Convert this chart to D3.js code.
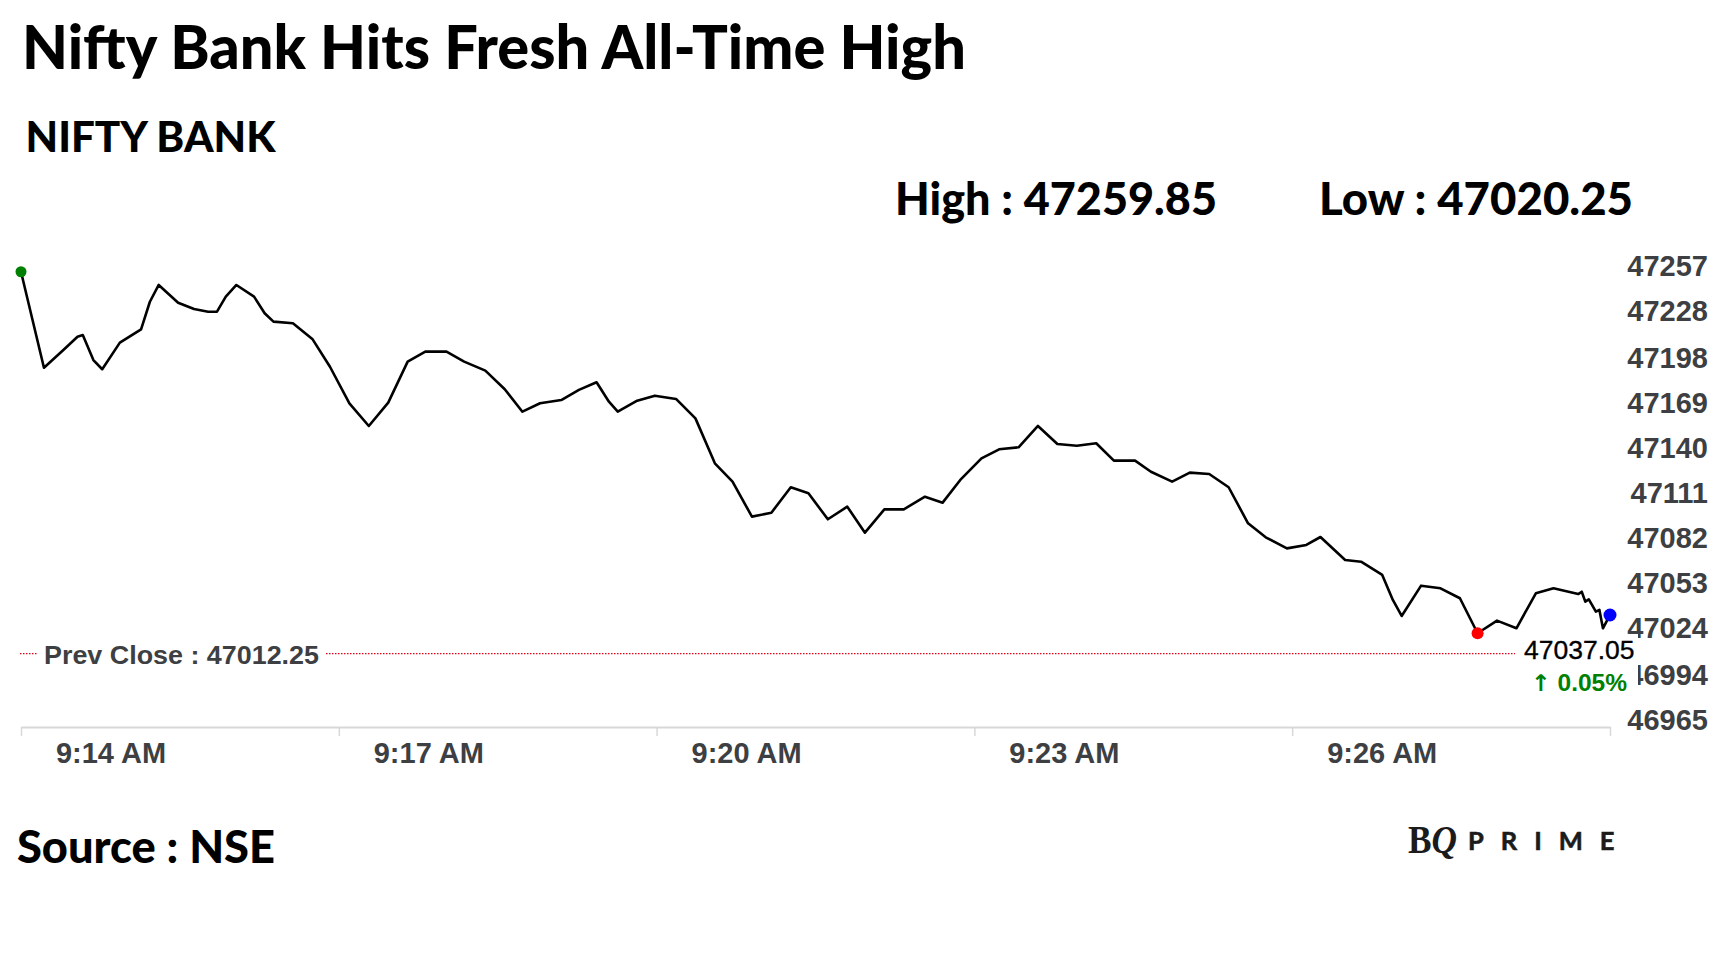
<!DOCTYPE html>
<html>
<head>
<meta charset="utf-8">
<script src="https://cdn.jsdelivr.net/npm/d3@7"></script>
<style>
  body{margin:0;background:#fff;}
  svg{display:block;}
</style>
</head>
<body>
<svg></svg>
<script>
var times = ["9:14:00","9:14:13","9:14:24","9:14:32","9:14:35","9:14:41","9:14:46","9:14:56","9:15:08","9:15:13",
  "9:15:18","9:15:29","9:15:38","9:15:46","9:15:51","9:15:56","9:16:02","9:16:12","9:16:18","9:16:23",
  "9:16:34","9:16:45","9:16:55","9:17:06","9:17:17","9:17:28","9:17:39","9:17:49","9:18:01","9:18:11",
  "9:18:23","9:18:34","9:18:44","9:18:54","9:19:06","9:19:16","9:19:26","9:19:33","9:19:38","9:19:49",
  "9:19:59","9:20:11","9:20:22","9:20:33","9:20:43","9:20:54","9:21:05","9:21:16","9:21:26","9:21:37",
  "9:21:48","9:21:58","9:22:09","9:22:20","9:22:32","9:22:42","9:22:52","9:23:04","9:23:14","9:23:25",
  "9:23:36","9:23:47","9:23:58","9:24:09","9:24:19","9:24:31","9:24:40","9:24:52","9:25:02","9:25:13",
  "9:25:24","9:25:35","9:25:45","9:25:57","9:26:08","9:26:16","9:26:30","9:26:39","9:26:51","9:26:57",
  "9:27:02","9:27:13","9:27:24","9:27:35","9:27:45","9:27:56","9:28:07","9:28:18","9:28:28","9:28:42",
  "9:28:44","9:28:46","9:28:48","9:28:52","9:28:54","9:28:56","9:29:00"];

var prices = [47257.8,47196.1,47207.5,47216.0,47217.1,47201.0,47195.1,47212.2,47220.8,47238.5,
  47249.3,47237.9,47233.8,47232.1,47232.1,47241.8,47249.3,47241.8,47231.1,47225.7,
  47224.7,47214.6,47196.7,47173.2,47158.6,47173.6,47200.0,47206.4,47206.4,47200.0,
  47194.2,47182.2,47167.8,47173.2,47175.3,47181.8,47186.7,47174.2,47167.8,47174.9,
  47178.1,47176.0,47163.5,47134.6,47122.8,47100.3,47102.8,47119.2,47115.3,47098.6,
  47106.7,47090.0,47105.0,47105.0,47113.1,47109.3,47123.9,47137.8,47143.6,47144.9,
  47158.6,47147.0,47145.9,47147.5,47136.3,47136.3,47129.2,47122.8,47128.6,47127.7,
  47119.2,47096.0,47087.0,47079.9,47082.1,47087.2,47072.4,47071.3,47062.8,47046.7,
  47036.4,47055.9,47054.2,47047.8,47025.3,47033.4,47028.5,47051.0,47054.2,47050.5,
  47052.0,47045.6,47047.1,47039.2,47040.3,47028.5,47037.05];

var yTicks = [46965,46994,47024,47053,47082,47111,47140,47169,47198,47228,47257];
var xTicks = ["9:14:00","9:17:00","9:20:00","9:23:00","9:26:00","9:29:00"];
var xTickLabels = ["9:14 AM","9:17 AM","9:20 AM","9:23 AM","9:26 AM",""];

var prevClose = 47012.25;
var dayHigh = 47259.85;
var dayLow = 47020.25;
var changePct = 0.05;

start();

function start(){
  graph();
}

function graph(){
  var width = 1728;
  var height = 972;
  var axisFont = "'Liberation Sans', Arial, sans-serif";
  var headFont = "Lato, 'Open Sans', sans-serif";
  var grey = "#3d3f42";

  var svg = d3.select("svg")
              .attr("width",width)
              .attr("height",height);

  svg.append("rect")
     .attr("width",width)
     .attr("height",height)
     .attr("fill","#fff");

  var parse = d3.timeParse("%H:%M:%S");
  var data = times.map(function(t,i){ return {t:parse(t), v:prices[i]}; });

  var x = d3.scaleTime()
            .domain([parse(xTicks[0]), parse(xTicks[xTicks.length-1])])
            .range([21,1610]);
  var y = d3.scaleLinear()
            .domain([yTicks[0], yTicks[yTicks.length-1]])
            .range([727,273]);

  // headings
  svg.append("text")
     .attr("x",22).attr("y",68.5)
     .attr("font-family",headFont).attr("font-weight",900)
     .attr("font-size",60)
     .attr("textLength",944).attr("lengthAdjust","spacingAndGlyphs")
     .text("Nifty Bank Hits Fresh All-Time High");

  svg.append("text")
     .attr("x",25.5).attr("y",151.7)
     .attr("font-family",headFont).attr("font-weight",900)
     .attr("font-size",42)
     .attr("textLength",250).attr("lengthAdjust","spacingAndGlyphs")
     .text("NIFTY BANK");

  svg.append("text")
     .attr("x",895).attr("y",215)
     .attr("font-family",headFont).attr("font-weight",900)
     .attr("font-size",46.5)
     .attr("textLength",322).attr("lengthAdjust","spacingAndGlyphs")
     .text("High : " + dayHigh.toFixed(2));

  svg.append("text")
     .attr("x",1319).attr("y",215)
     .attr("font-family",headFont).attr("font-weight",900)
     .attr("font-size",46.5)
     .attr("textLength",314).attr("lengthAdjust","spacingAndGlyphs")
     .text("Low : " + dayLow.toFixed(2));

  // x axis
  var xAxis = d3.axisBottom(x)
                .tickValues(xTicks.map(parse))
                .tickSize(9)
                .tickSizeOuter(0)
                .tickFormat(function(d,i){ return xTickLabels[i]; });

  var gx = svg.append("g")
              .attr("transform","translate(0,727)")
              .call(xAxis);
  gx.select(".domain").attr("stroke","#d8d8d8").attr("stroke-width",2);
  gx.selectAll(".tick line").attr("stroke","#d8d8d8").attr("stroke-width",1.5);
  gx.selectAll(".tick text")
    .attr("y",36).attr("dy",0).attr("dx",89.5)
    .attr("fill",grey)
    .attr("font-family",axisFont).attr("font-weight",700)
    .attr("font-size",29);

  // y axis labels on the right
  var yAxis = d3.axisRight(y)
                .tickValues(yTicks)
                .tickSize(0)
                .tickFormat(d3.format("d"));
  var gy = svg.append("g")
              .attr("transform","translate(1708,0)")
              .call(yAxis);
  gy.select(".domain").remove();
  gy.selectAll(".tick text")
    .attr("x",0).attr("dy","0.09em")
    .attr("text-anchor","end")
    .attr("fill",grey)
    .attr("font-family",axisFont).attr("font-weight",700)
    .attr("font-size",29);

  // previous close
  svg.append("line")
     .attr("x1",20).attr("x2",1515)
     .attr("y1",y(prevClose)).attr("y2",y(prevClose))
     .attr("stroke","#e3001b").attr("stroke-width",1.2)
     .attr("stroke-dasharray","1.5,1.5");
  svg.append("rect")
     .attr("x",37).attr("y",y(prevClose)-16)
     .attr("width",288).attr("height",32)
     .attr("fill","#fff");
  svg.append("text")
     .attr("x",44).attr("y",y(prevClose)+10)
     .attr("font-family",axisFont).attr("font-weight",700)
     .attr("font-size",26).attr("fill",grey)
     .attr("textLength",275).attr("lengthAdjust","spacingAndGlyphs")
     .text("Prev Close : " + prevClose.toFixed(2));

  // price line
  var line = d3.line()
               .x(function(d){ return x(d.t); })
               .y(function(d){ return y(d.v); });

  svg.append("path")
     .datum(data)
     .attr("d",line)
     .attr("fill","none")
     .attr("stroke","#000")
     .attr("stroke-width",2.6)
     .attr("stroke-linejoin","round");

  var first = data[0];
  var last = data[data.length-1];
  var low = data[d3.minIndex(data,function(d){ return d.v; })];

  svg.append("circle")
     .attr("cx",x(first.t)).attr("cy",y(first.v)).attr("r",5.5)
     .attr("fill","#008000");
  svg.append("circle")
     .attr("cx",x(low.t)).attr("cy",y(low.v)).attr("r",6)
     .attr("fill","#ff0000");
  svg.append("circle")
     .attr("cx",x(last.t)).attr("cy",y(last.v)).attr("r",6.5)
     .attr("fill","#0000ff");

  // last price label
  var lx = x(last.t);
  var ly = y(last.v);
  svg.append("rect")
     .attr("x",lx-94).attr("y",ly+19)
     .attr("width",122).attr("height",64)
     .attr("fill","#fff");
  svg.append("text")
     .attr("x",lx-86).attr("y",ly+44)
     .attr("font-family",axisFont)
     .attr("font-size",26.5).attr("fill","#000")
     .attr("stroke","#000").attr("stroke-width",0.35)
     .text(last.v.toFixed(2));
  var chg = svg.append("text")
               .attr("x",lx-79).attr("y",ly+76)
               .attr("font-family",axisFont).attr("font-weight",700)
               .attr("font-size",24).attr("fill","#008000")
               .attr("textLength",96).attr("lengthAdjust","spacingAndGlyphs");
  chg.append("tspan")
     .attr("font-family","'DejaVu Sans', sans-serif")
     .attr("font-size",23)
     .text("\u2191");
  chg.append("tspan").text(" " + changePct.toFixed(2) + "%");

  // footer
  svg.append("text")
     .attr("x",17).attr("y",862.5)
     .attr("font-family",headFont).attr("font-weight",900)
     .attr("font-size",46)
     .attr("textLength",258).attr("lengthAdjust","spacingAndGlyphs")
     .text("Source : NSE");

  var logo = svg.append("text")
                .attr("x",1408).attr("y",853)
                .attr("font-family","'Liberation Serif', 'DejaVu Serif', serif")
                .attr("font-weight",700)
                .attr("font-size",40)
                .attr("fill","#1b1b1b")
                .attr("textLength",49).attr("lengthAdjust","spacingAndGlyphs");
  logo.append("tspan").text("B");
  logo.append("tspan").attr("font-style","italic").text("Q");

  svg.append("text")
     .attr("x",1468).attr("y",850)
     .attr("font-family",headFont).attr("font-weight",700)
     .attr("font-size",25.5)
     .attr("letter-spacing",17)
     .attr("fill","#1b1b1b")
     .attr("stroke","#1b1b1b").attr("stroke-width",0.6)
     .text("PRIME");
}
</script>
</body>
</html>
